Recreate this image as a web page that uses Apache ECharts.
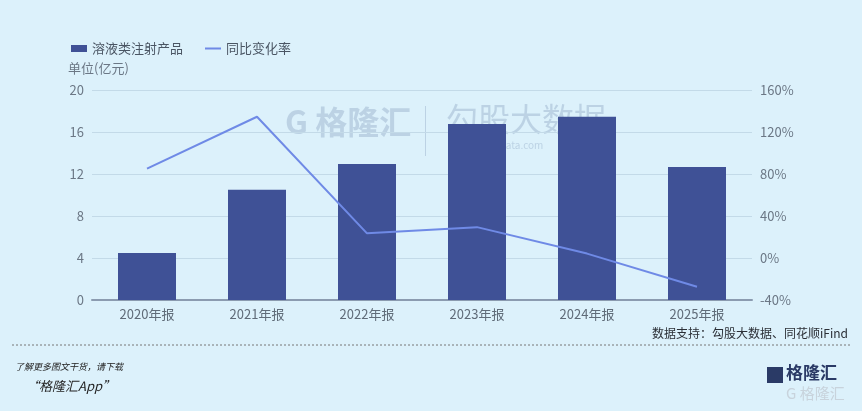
<!DOCTYPE html>
<html><head><meta charset="utf-8">
<script src="https://cdn.jsdelivr.net/npm/echarts@6/dist/echarts.min.js"></script>
<style>html,body{margin:0;padding:0;background:#dcf1fb;}#c{width:862px;height:411px;}</style>
</head><body><div id="c"></div>
<script>
const categories = ['2020年报','2021年报','2022年报','2023年报','2024年报','2025年报'];
const revenue = [4.47, 10.49, 12.95, 16.76, 17.46, 12.67];
const yoy = [85.1, 134.5, 23.5, 29.4, 4.2, -27.4];
const leftTicks = [0, 4, 8, 12, 16, 20];
const rightTicks = [-40, 0, 40, 80, 120, 160];

const font = '"Noto Sans CJK SC", "Noto Sans", sans-serif';
const chart = echarts.init(document.getElementById('c'));
chart.setOption({
  backgroundColor: '#dcf1fb',
  textStyle: {fontFamily: font},
  legend: {
    left: 66, top: 37, itemWidth: 16, itemHeight: 7, itemGap: 22,
    textStyle: {color: '#4a5563', fontSize: 13, fontFamily: font},
    data: [
      {name: '溶液类注射产品', icon: 'rect'},
      {name: '同比变化率', icon: 'path://M0,0H0.01V0.01H0Z M0,2.5H16V4.5H0Z M15.99,6.99H16V7H15.99Z',
       itemStyle: {color: '#6f8ae6'}, lineStyle: {width: 0}}
    ]
  },
  grid: {left: 92, right: 110, top: 90, bottom: 111},
  xAxis: {
    type: 'category', data: categories,
    axisLine: {lineStyle: {color: '#8b9bb0', width: 2}},
    axisTick: {show: false},
    axisLabel: {color: '#5f6b78', fontSize: 13, margin: 8, fontFamily: font}
  },
  yAxis: [
    {type: 'value', min: leftTicks[0], max: leftTicks[leftTicks.length-1], interval: 4,
     axisLine: {show: false}, axisTick: {show: false},
     axisLabel: {color: '#6b7785', fontSize: 13, margin: 8, fontFamily: font},
     splitLine: {lineStyle: {color: '#c3dae8', width: 1}}},
    {type: 'value', min: rightTicks[0], max: rightTicks[rightTicks.length-1], interval: 40,
     axisLine: {show: false}, axisTick: {show: false},
     axisLabel: {color: '#6b7785', fontSize: 13, margin: 8, formatter: '{value}%', fontFamily: font},
     splitLine: {show: false}}
  ],
  series: [
    {name: '溶液类注射产品', type: 'bar', data: revenue, barWidth: 58, yAxisIndex: 0,
     itemStyle: {color: '#3f5196'}, z: 2},
    {name: '同比变化率', type: 'line', data: yoy, yAxisIndex: 1, symbol: 'none',
     lineStyle: {color: '#6f8ae6', width: 2}, itemStyle: {color: '#6f8ae6'}, z: 3}
  ],
  graphic: [
    {type: 'text', left: 68, top: 62, style: {text: '单位(亿元)', fill: '#6b7785', fontSize: 13, fontFamily: font}},
    {type: 'text', left: 285, top: 106, z: 0, style: {text: 'G 格隆汇', fill: 'rgba(140,165,195,0.4)', fontSize: 32, fontWeight: 'bold', fontFamily: font}},
    {type: 'rect', left: 425, top: 106, z: 0, shape: {width: 1, height: 50}, style: {fill: 'rgba(140,165,195,0.4)'}},
    {type: 'text', left: 446, top: 103, z: 0, style: {text: '勾股大数据', fill: 'rgba(140,165,195,0.4)', fontSize: 32, fontFamily: font}},
    {type: 'text', left: 450, top: 140, z: 0, style: {text: 'www.gogudata.com', fill: 'rgba(140,165,195,0.4)', fontSize: 10, fontFamily: font}},
    {type: 'text', right: 14, top: 327, style: {text: '数据支持：勾股大数据、同花顺iFind', fill: '#2b2f36', fontSize: 12, fontFamily: font}},
    {type: 'line', shape: {x1: 12, y1: 345, x2: 850, y2: 345}, style: {stroke: '#777', lineWidth: 1, lineDash: [2, 2]}},
    {type: 'text', left: 15, top: 362, style: {text: '了解更多图文干货，请下载', fill: '#222', fontSize: 9, fontStyle: 'italic', fontFamily: font}},
    {type: 'text', left: 26, top: 380, style: {text: '“格隆汇App”', fill: '#222', fontSize: 13, fontStyle: 'italic', fontFamily: font}},
    {type: 'rect', left: 767, top: 367, shape: {width: 16, height: 16}, style: {fill: '#2a3a66'}},
    {type: 'text', left: 786, top: 364, style: {text: '格隆汇', fill: '#2a3a66', fontSize: 17, fontWeight: 'bold', fontFamily: font}},
    {type: 'text', left: 786, top: 386, style: {text: 'G 格隆汇', fill: '#c8d3dc', fontSize: 15, fontFamily: font}}
  ]
});
</script></body></html>
